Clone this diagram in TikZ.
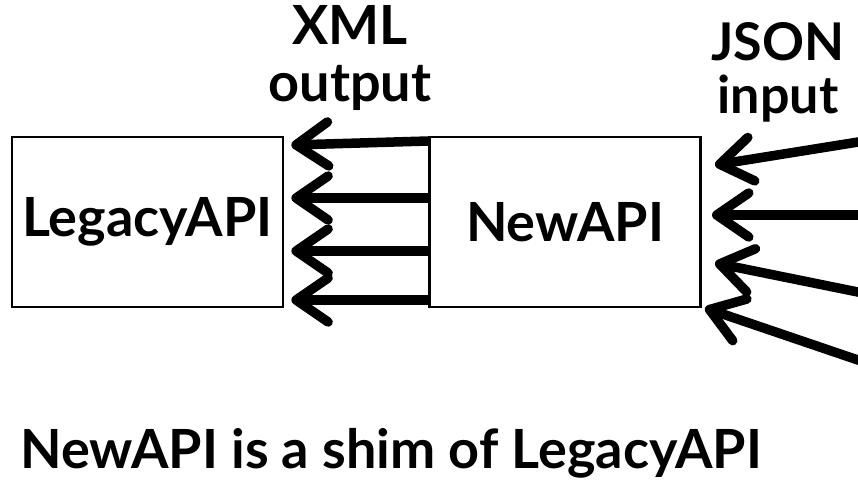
\documentclass[tikz,border=0pt]{standalone}
\usepackage{fontspec}
\setmainfont{Lato}
\usetikzlibrary{arrows.meta,calc}
\begin{document}
\begin{tikzpicture}[x=1pt,y=-1pt,font=\fontsize{54}{57}\selectfont\bfseries]
\tikzset{
  box/.style={draw, line width=2.7pt, minimum width=271pt, minimum height=170pt, inner sep=0pt},
  lbl/.style={inner sep=0pt, align=center},
  flow/.style={line width=9.5pt, line cap=butt, -{Straight Barb[length=32pt,width=44pt,round]}}
}
\useasboundingbox (0,0) rectangle (858,488);
\node[box] (legacy) at (147.5,222) {LegacyAPI};
\node[box] (new) at (565,222) {NewAPI};
\node[lbl, anchor=north] (xml) at (350,5) {XML\\output};
\node[lbl, anchor=north, font=\fontsize{52}{55}\selectfont\bfseries] (json) at (778,22) {JSON\\[-2pt]input};
\node[inner sep=0pt, anchor=base west] (cap) at (20,468) {NewAPI is a shim of LegacyAPI};
\coordinate (lt) at ($(legacy.east)+(7,0)$);
\draw[flow] (new.west |- 0,141) -- (lt |- 0,145);
\draw[flow] (new.west |- 0,198) -- (lt |- 0,198);
\draw[flow] (new.west |- 0,251) -- (lt |- 0,251);
\draw[flow] (new.west |- 0,300) -- (lt |- 0,300);
\coordinate (s1) at (880,138.5);
\coordinate (s2) at (880,215);
\coordinate (s3) at (880,296.5);
\coordinate (s4) at (880,367.5);
\coordinate (t1) at (715,165);
\coordinate (t2) at (712,215);
\coordinate (t3) at (715,263);
\coordinate (t4) at (705,308);
\draw[flow] (s1) -- (t1);
\draw[flow] (s2) -- (t2);
\draw[flow] (s3) -- (t3);
\draw[flow] (s4) -- (t4);
\end{tikzpicture}
\end{document}
